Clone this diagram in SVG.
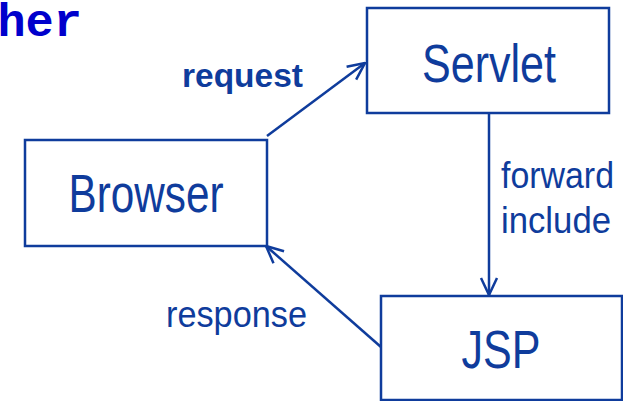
<svg xmlns="http://www.w3.org/2000/svg" width="623" height="401" viewBox="0 0 623 401">
  <style>
    .box { fill: #ffffff; stroke: #0f3c9c; stroke-width: 2.5; }
    .node-label { font-family: "Liberation Sans", Arial, sans-serif; font-size: 53px; fill: #0f3c9c; text-anchor: middle; }
    .edge { fill: none; stroke: #0f3c9c; stroke-width: 2.5; }
    .edge-label { font-family: "Liberation Sans", Arial, sans-serif; fill: #0f3c9c; }
    .code { font-family: "Liberation Mono", "Courier New", monospace; font-weight: bold; fill: #0000cc; }
  </style>
  <defs>
    <marker id="open-arrow" viewBox="0 0 20 20" refX="19" refY="10" markerWidth="20" markerHeight="20" markerUnits="userSpaceOnUse" orient="auto">
      <path d="M2,2 L19,10 L2,18" fill="none" stroke="#0f3c9c" stroke-width="2.5" stroke-linejoin="miter"/>
    </marker>
  </defs>

  <rect width="623" height="401" fill="#ffffff"/>

  <!-- heading fragment at the top-left edge -->
  <text class="code" x="82" y="36" font-size="47" text-anchor="end">her</text>

  <!-- connectors -->
  <g id="connectors">
    <line class="edge" x1="267" y1="136" x2="365" y2="63" marker-end="url(#open-arrow)"/>
    <line class="edge" x1="489" y1="113" x2="489" y2="295" marker-end="url(#open-arrow)"/>
    <line class="edge" x1="381" y1="347" x2="266" y2="246" marker-end="url(#open-arrow)"/>
    <text class="edge-label" x="182" y="87" font-size="33" font-weight="bold" textLength="121" lengthAdjust="spacingAndGlyphs">request</text>
    <text class="edge-label" x="501" y="188" font-size="37" textLength="113" lengthAdjust="spacingAndGlyphs">forward</text>
    <text class="edge-label" x="501" y="233" font-size="37" textLength="110" lengthAdjust="spacingAndGlyphs">include</text>
    <text class="edge-label" x="166" y="327" font-size="37" textLength="141" lengthAdjust="spacingAndGlyphs">response</text>
  </g>

  <g id="servlet">
    <rect class="box" x="367" y="8" width="242" height="105"/>
    <text class="node-label" x="489" y="82" textLength="134" lengthAdjust="spacingAndGlyphs">Servlet</text>
  </g>

  <g id="browser">
    <rect class="box" x="25" y="140" width="242" height="106"/>
    <text class="node-label" x="146" y="212" textLength="155" lengthAdjust="spacingAndGlyphs">Browser</text>
  </g>

  <g id="jsp">
    <rect class="box" x="381" y="296" width="241" height="104"/>
    <text class="node-label" x="501" y="368" textLength="79" lengthAdjust="spacingAndGlyphs">JSP</text>
  </g>
</svg>
